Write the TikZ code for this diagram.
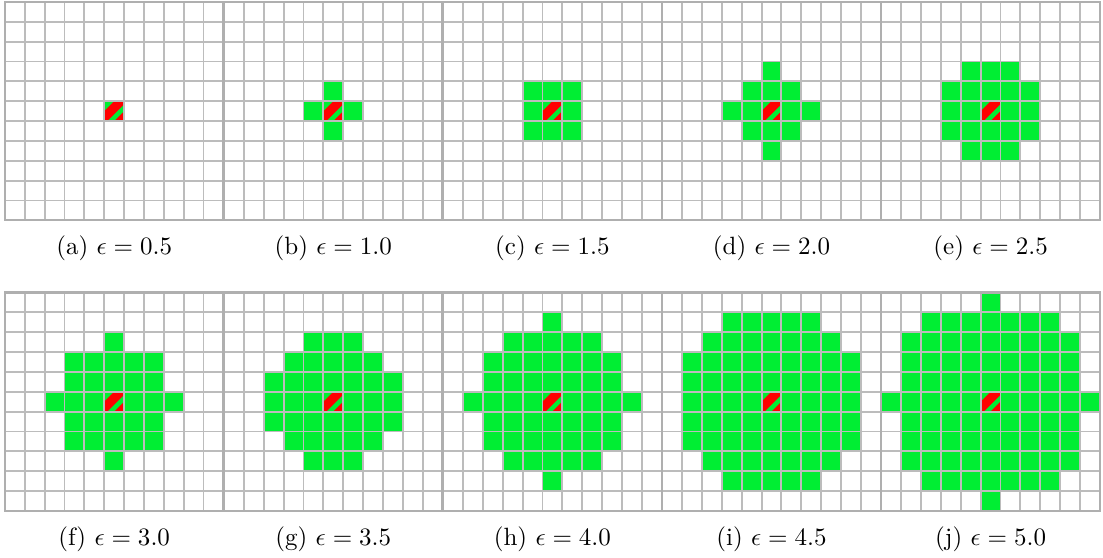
\documentclass[tikz,border=0pt]{standalone}
\definecolor{cellgreen}{RGB}{0,238,51}
\definecolor{cellred}{RGB}{255,0,0}
\definecolor{gridgray}{RGB}{188,188,188}
\definecolor{framegray}{RGB}{175,175,175}
\begin{document}
\begin{tikzpicture}[x=0.4pt,y=-0.4pt,
  gridline/.style={draw=gridgray,line width=0.75pt},
  frameline/.style={draw=framegray,line width=0.85pt},
  captiontext/.style={anchor=base,inner sep=0pt}]
\useasboundingbox (0,0) rectangle (1103,558);
\def\s{19.85}
\foreach \e/\lab [count=\i from 0] in {0.5/a,1.0/b,1.5/c,2.0/d,2.5/e,3.0/f,3.5/g,4.0/h,4.5/i,5.0/j} {
  \pgfmathtruncatemacro{\col}{mod(\i,5)}
  \pgfmathtruncatemacro{\row}{\i/5}
  \pgfmathsetmacro{\xo}{5+219.1*\col}
  \pgfmathsetmacro{\yo}{2+290.5*\row}
  \begin{scope}[shift={(\xo,\yo)}]
    \foreach \dx in {-5,...,5} {
      \foreach \dy in {-5,...,5} {
        \pgfmathtruncatemacro{\inside}{(\dx*\dx+\dy*\dy <= \e*\e+0.001)}
        \ifnum\inside=1
          \fill[cellgreen] ({(\dx+5)*\s},{(\dy+5)*\s}) rectangle ++(\s,\s);
        \fi
      }
    }
    \begin{scope}[shift={({5*\s},{5*\s})}]
      \fill[cellred] ({0.5*\s},0) -- (\s,0) -- (\s,{0.15*\s}) -- ({0.15*\s},\s) -- (0,\s) -- (0,{0.5*\s}) -- cycle;
      \fill[cellred] (\s,{0.5*\s}) -- (\s,\s) -- ({0.5*\s},\s) -- cycle;
    \end{scope}
    \foreach \k in {0,...,11} {
      \draw[gridline] ({\k*\s},0) -- ({\k*\s},{11*\s});
      \draw[gridline] (0,{\k*\s}) -- ({11*\s},{\k*\s});
    }
    \draw[frameline] (0,0) rectangle ({11*\s},{11*\s});
    \node[captiontext] (cap\lab) at ({5.5*\s},252.5) {(\lab) $\epsilon = \e$};
  \end{scope}
}
\end{tikzpicture}
\end{document}
